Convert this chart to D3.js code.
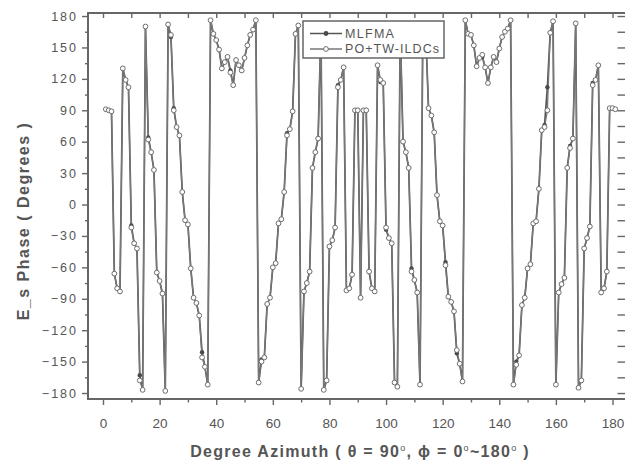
<!DOCTYPE html>
<html>
<head>
<meta charset="utf-8">
<script src="https://cdn.jsdelivr.net/npm/d3@7"></script>
<style>
  body { margin: 0; background: #fff; }
  svg { display: block; font-family: "Liberation Sans", Arial, sans-serif; }
</style>
</head>
<body>
<svg id="chart" width="625" height="465"></svg>
<script>
// sample grid (degrees azimuth), one point per degree as drawn
var azimuth = d3.range(1, 182);

// PO+TW-ILDCs phase (degrees)
var poPhase = [
  91, 90, 89, -66, -80, -83, 130, 119, 112, -22,
  -37, -42, -168, -177, 170, 62, 50, 33, -65, -73,
  -85, -178, 172, 162, 90, 74, 66, 12, -15, -19,
  -61, -89, -94, -106, -146, -155, -172, 176, 163, 157,
  148, 130, 136, 141, 126, 114, 138, 133, 128, 140,
  152, 162, 167, 176, -170, -150, -146, -95, -89, -60,
  -56, -18, -14, 12, 66, 72, 89, 163, 171, -176,
  -83, -75, -64, 35, 50, 63, 170, -177, -168, -40,
  -34, -22, 112, 119, 131, -82, -80, -67, 90, 90,
  -89, 90, 90, -64, -80, -83, 133, 119, 116, -22,
  -32, -37, -170, -174, 170, 60, 50, 35, -64, -72,
  -84, -172, 172, 166, 92, 85, 69, 9, -16, -20,
  -58, -88, -93, -102, -139, -152, -169, 176, 163, 162,
  152, 132, 140, 143, 131, 116, 131, 141, 136, 149,
  160, 165, 168, 176, -172, -153, -144, -96, -89, -61,
  -57, -18, -16, 15, 71, 74, 90, 164, 175, -172,
  -84, -76, -70, 35, 54, 63, 173, -175, -168, -42,
  -32, -21, 114, 119, 133, -84, -80, -64, 92, 92,
  91
];

// MLFMA phase (degrees)
var mlfmaPhase = [
  91, 90, 89, -66, -80, -83, 130, 119, 112, -20,
  -37, -42, -163, -177, 170, 64, 50, 33, -65, -73,
  -85, -178, 172, 160, 92, 74, 66, 12, -15, -19,
  -61, -89, -94, -106, -141, -155, -172, 176, 163, 157,
  148, 130, 136, 141, 128, 114, 138, 133, 128, 140,
  152, 162, 167, 176, -170, -148, -146, -95, -89, -60,
  -56, -18, -14, 12, 68, 72, 89, 163, 171, -176,
  -83, -75, -64, 35, 50, 63, 170, -177, -168, -40,
  -34, -22, 114, 119, 131, -82, -80, -67, 90, 90,
  -89, 90, 90, -64, -80, -83, 133, 117, 116, -24,
  -32, -37, -170, -174, 170, 60, 50, 35, -61, -72,
  -84, -172, 172, 166, 92, 85, 69, 9, -16, -20,
  -55, -88, -93, -102, -142, -152, -169, 176, 163, 162,
  152, 132, 140, 141, 131, 116, 131, 141, 136, 149,
  160, 165, 168, 176, -172, -150, -144, -96, -89, -61,
  -57, -18, -16, 15, 71, 76, 112, 164, 175, -172,
  -84, -76, -70, 35, 56, 63, 173, -175, -168, -42,
  -32, -21, 116, 119, 133, -84, -80, -64, 92, 92,
  91
];

var xTicks = [0, 20, 40, 60, 80, 100, 120, 140, 160, 180];
var xMinor = [10, 30, 50, 70, 90, 110, 130, 150, 170];
var yTicks = [-180, -150, -120, -90, -60, -30, 0, 30, 60, 90, 120, 150, 180];
var yMinor = [-165, -135, -105, -75, -45, -15, 15, 45, 75, 105, 135, 165];
var seriesNames = ["MLFMA", "PO+TW-ILDCs"];

var svg = d3.select("#chart");
// plot frame (right edge falls just outside the picture)
var pLeft = 88, pRight = 627.5, pTop = 13, pBottom = 399;
var ink = "#666";

var xScale = d3.scaleLinear().domain([-5.3, 185.3]).range([pLeft, pRight]);
var yScale = d3.scaleLinear().domain([-185.7, 182.9]).range([pBottom, pTop]);

// axes
function styleAxis(g) {
  g.select(".domain").remove();
  g.selectAll("line").attr("stroke", ink).attr("stroke-width", 1.4);
}

svg.append("g").attr("transform", "translate(0," + pBottom + ")")
  .call(d3.axisBottom(xScale).tickValues(xTicks).tickSize(6).tickPadding(13).tickFormat(d3.format("d")))
  .call(styleAxis)
  .selectAll("text").attr("font-size", 13.5).attr("fill", "#555").attr("font-family", "Liberation Sans, Arial, sans-serif");
svg.append("g").attr("transform", "translate(0," + pBottom + ")")
  .call(d3.axisBottom(xScale).tickValues(xMinor).tickSize(3.5).tickFormat(""))
  .call(styleAxis);

svg.append("g").attr("transform", "translate(0," + pTop + ")")
  .call(d3.axisBottom(xScale).tickValues(xTicks.concat(xMinor)).tickSize(5).tickFormat(""))
  .call(styleAxis);

svg.append("g").attr("transform", "translate(" + pLeft + ",0)")
  .call(d3.axisLeft(yScale).tickValues(yTicks).tickSize(6).tickPadding(4).tickFormat(d3.format("d")))
  .call(styleAxis)
  .selectAll("text").attr("font-size", 12.5).attr("letter-spacing", 2).attr("fill", "#555").attr("font-family", "Liberation Sans, Arial, sans-serif");
svg.append("g").attr("transform", "translate(" + pLeft + ",0)")
  .call(d3.axisLeft(yScale).tickValues(yMinor).tickSize(3).tickFormat(""))
  .call(styleAxis);

svg.append("g").attr("transform", "translate(" + pRight + ",0)")
  .call(d3.axisLeft(yScale).tickValues(yTicks.concat(yMinor)).tickSize(10).tickFormat(""))
  .call(styleAxis);

svg.append("rect")
  .attr("x", pLeft).attr("y", pTop).attr("width", pRight - pLeft).attr("height", pBottom - pTop)
  .attr("fill", "none").attr("stroke", ink).attr("stroke-width", 2);

// data
var ml = azimuth.map(function (d, i) { return { x: d, y: mlfmaPhase[i] }; });
var po = azimuth.map(function (d, i) { return { x: d, y: poPhase[i] }; });

var line = d3.line()
  .x(function (d) { return xScale(d.x); })
  .y(function (d) { return yScale(d.y); });

svg.append("path").datum(ml).attr("d", line)
  .attr("fill", "none").attr("stroke", "#555").attr("stroke-width", 1.7);
svg.append("path").datum(po).attr("d", line)
  .attr("fill", "none").attr("stroke", "#777").attr("stroke-width", 1.3);

svg.append("g").selectAll("circle").data(ml).enter().append("circle")
  .attr("cx", function (d) { return xScale(d.x); })
  .attr("cy", function (d) { return yScale(d.y); })
  .attr("r", 2.2)
  .attr("fill", "#4a4a4a");

svg.append("g").selectAll("circle").data(po).enter().append("circle")
  .attr("cx", function (d) { return xScale(d.x); })
  .attr("cy", function (d) { return yScale(d.y); })
  .attr("r", 2.4)
  .attr("fill", "#fff")
  .attr("stroke", "#707070")
  .attr("stroke-width", 1);

// legend
var lg = svg.append("g");
lg.append("rect").attr("x", 303).attr("y", 21).attr("width", 141).attr("height", 37)
  .attr("fill", "#fff").attr("stroke", ink).attr("stroke-width", 1.5);
var rows = [33.5, 49];
seriesNames.forEach(function (name, i) {
  lg.append("line").attr("x1", 310).attr("x2", 342).attr("y1", rows[i]).attr("y2", rows[i])
    .attr("stroke", i == 0 ? "#555" : "#777").attr("stroke-width", 1.5);
  if (i == 0) {
    lg.append("circle").attr("cx", 326).attr("cy", rows[i]).attr("r", 2.4).attr("fill", "#4a4a4a");
  } else {
    lg.append("circle").attr("cx", 326).attr("cy", rows[i]).attr("r", 2.4)
      .attr("fill", "#fff").attr("stroke", "#707070").attr("stroke-width", 1);
  }
  lg.append("text").attr("x", 345).attr("y", rows[i] + 4.3)
    .attr("font-size", 12.5).attr("letter-spacing", i == 0 ? 1.3 : 1.05).attr("fill", "#555")
    .text(name);
});

// axis titles
var xt = svg.append("text").attr("x", 360).attr("y", 457).attr("text-anchor", "middle")
  .attr("font-size", 16).attr("font-weight", "bold").attr("fill", "#555").attr("letter-spacing", 1.3);
xt.append("tspan").text("Degree Azimuth ( \u03b8 = 90");
xt.append("tspan").attr("dy", -6).attr("font-size", 9).attr("font-weight", "normal").text("o");
xt.append("tspan").attr("dy", 6).text(", \u03d5 = 0");
xt.append("tspan").attr("dy", -6).attr("font-size", 9).attr("font-weight", "normal").text("o");
xt.append("tspan").attr("dy", 6).text("~180");
xt.append("tspan").attr("dy", -6).attr("font-size", 9).attr("font-weight", "normal").text("o");
xt.append("tspan").attr("dy", 6).text(" )");

svg.append("text").attr("transform", "translate(29,221) rotate(-90)")
  .attr("text-anchor", "middle").attr("font-size", 16).attr("font-weight", "bold")
  .attr("fill", "#555").attr("letter-spacing", 1.5)
  .text("E_s Phase ( Degrees )");
</script>
</body>
</html>
